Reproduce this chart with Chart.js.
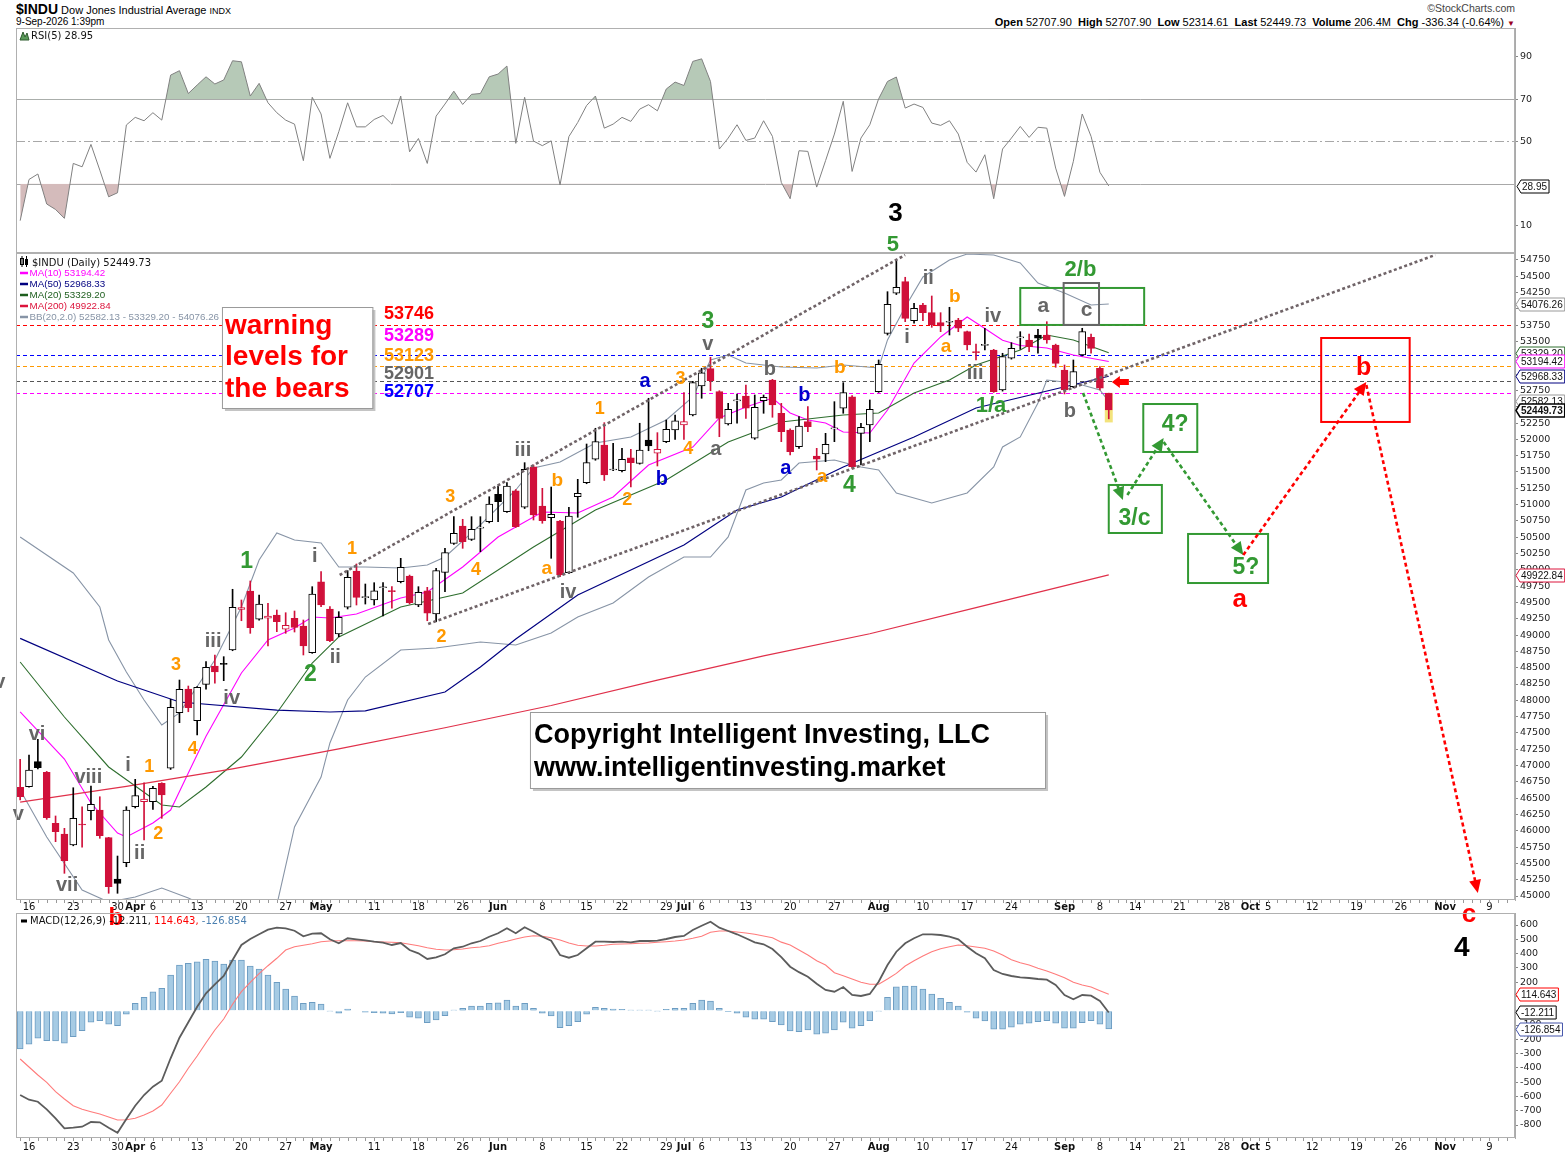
<!DOCTYPE html>
<html>
<head>
<meta charset="utf-8">
<title>$INDU Dow Jones Industrial Average</title>
<script src="https://cdn.jsdelivr.net/npm/chart.js@4.4.1/dist/chart.umd.min.js"></script>
<style>
  html, body { margin:0; padding:0; background:#fff; }
  body { width:1565px; height:1157px; position:relative; overflow:hidden; font-family:"Liberation Sans", Arial, sans-serif; }
  canvas { position:absolute; left:0; }
  .hdr { position:absolute; white-space:nowrap; color:#000; line-height:1; }
</style>
</head>
<body>
<div class="hdr" style="left:16px; top:2px; font-size:11px;"><b style="font-size:14px;">$INDU</b> Dow Jones Industrial Average <span style="font-size:9px">INDX</span></div>
<div class="hdr" style="left:16px; top:17px; font-size:10px;">9-Sep-2026 1:39pm</div>
<div class="hdr" style="right:50px; top:3px; font-size:10.5px; color:#444;">©StockCharts.com</div>
<div class="hdr" style="right:50px; top:17px; font-size:11px;"><b>Open</b> 52707.90 &nbsp;<b>High</b> 52707.90 &nbsp;<b>Low</b> 52314.61 &nbsp;<b>Last</b> 52449.73 &nbsp;<b>Volume</b> 206.4M &nbsp;<b>Chg</b> -336.34 (-0.64%) <span style="color:#990022;font-size:8px;">▼</span></div>
<canvas id="rsiChart" width="1565" height="245" style="top:18px;"></canvas>
<canvas id="priceChart" width="1565" height="760" style="top:180px;"></canvas>
<canvas id="macdChart" width="1565" height="257" style="top:900px;"></canvas>
<script>
// ================= DATA =================
const firstSession = '2026-03-13';
const marketHolidays = ['2026-04-03','2026-05-25','2026-06-19','2026-07-03','2026-09-07','2026-11-26'];

const xTickLabels = [
  ['2026-03-16','16'],['2026-03-23','23'],['2026-03-30','30'],['2026-04-01','Apr'],['2026-04-06','6'],
  ['2026-04-13','13'],['2026-04-20','20'],['2026-04-27','27'],['2026-05-01','May'],['2026-05-11','11'],
  ['2026-05-18','18'],['2026-05-26','26'],['2026-06-01','Jun'],['2026-06-08','8'],['2026-06-15','15'],
  ['2026-06-22','22'],['2026-06-29','29'],['2026-07-01','Jul'],['2026-07-06','6'],['2026-07-13','13'],
  ['2026-07-20','20'],['2026-07-27','27'],['2026-08-03','Aug'],['2026-08-10','10'],['2026-08-17','17'],
  ['2026-08-24','24'],['2026-09-01','Sep'],['2026-09-08','8'],['2026-09-14','14'],['2026-09-21','21'],
  ['2026-09-28','28'],['2026-10-01','Oct'],['2026-10-05','5'],['2026-10-12','12'],['2026-10-19','19'],
  ['2026-10-26','26'],['2026-11-02','Nov'],['2026-11-09','9']
];
const monthLabels = ['Apr','May','Jun','Jul','Aug','Sep','Oct','Nov'];

const priceTicks = [45000,45250,45500,45750,46000,46250,46500,46750,47000,47250,47500,47750,48000,48250,48500,48750,
  49000,49250,49500,49750,50000,50250,50500,50750,51000,51250,51500,51750,52000,52250,52500,52750,53000,53250,53500,
  53750,54000,54250,54500,54750];
const rsiTicks = [10,50,70,90];
const macdTicks = [600,500,400,300,200,100,0,-100,-200,-300,-400,-500,-600,-700,-800];

// daily OHLC, one value per session starting 13-Mar-2026
const opens = [46667,46676,47059,46896,46115,45951,45782,46100,46308,46319,
  45894,45261,45511,46369,46446,46446,46728,46958,47810,48173,
  47687,48245,48526,48560,48771,49395,49676,49242,49258,49308,
  49089,49257,49139,48730,49818,49400,49017,49426,49982,49575,
  49538,49725,49670,49818,49906,49461,49680,49323,49962,50407,
  50672,50468,50640,50738,51158,50891,51213,50959,51581,50979,
  50800,50749,49956,51121,51336,51695,51914,51530,51520,51719,
  51633,51991,51787,51965,52144,52221,52374,52818,53084,52731,
  52236,52590,52665,52017,52593,52910,52400,52144,51888,52271,
  51745,51776,52160,52477,52654,52093,52221,52731,53626,54240,
  54417,53819,54060,53942,53789,53795,53830,53651,53335,53440,
  53370,52757,53243,53555,53524,53600,53600,53447,53064,52808,
  53294,53565,53090,52708];
const highs = [47096,47162,47402,46910,46227,46038,46660,46369,46686,46522,
  45900,45613,46369,46789,46737,46680,46737,48016,48311,48219,
  48210,48592,48695,48669,49702,49538,49829,49614,49487,49384,
  49343,49369,49231,49742,49972,49435,49359,49987,50090,49783,
  49803,49803,49742,50177,49920,49742,49732,50024,50330,50815,
  50775,50815,50815,51121,51285,51336,51230,51643,51607,51250,
  51270,50760,50959,51388,51929,52170,52256,51940,51863,51847,
  52247,52630,52103,52297,52374,52716,52890,53090,53258,52746,
  52553,52696,52834,52680,52680,52920,52553,52160,52349,52501,
  51863,52093,52578,52869,52670,52247,52604,53217,54264,54739,
  54485,54086,54086,54198,53942,54025,53856,53660,53462,53703,
  53380,53320,53482,53651,53616,53688,53804,53460,53140,53217,
  53703,53616,53114,52708];
const lows = [46472,46670,46947,46176,45833,45348,45770,45747,46165,45885,
  45042,45042,45449,46350,45859,46329,46191,46940,47657,47825,
  47468,48169,48261,48301,48760,49220,49027,49230,48833,49052,
  49027,49047,48695,48720,49435,48898,48976,49400,49461,49476,
  49461,49293,49411,49800,49476,49435,49220,49205,49665,50390,
  50330,50450,50278,50720,50738,50880,50650,50940,50764,50714,
  50177,49895,49940,50806,51320,51680,51370,51520,51500,51270,
  51620,51826,51592,51950,52001,52001,52360,52630,52746,52041,
  52220,52247,52323,52000,52400,52339,51965,51761,51863,52118,
  51531,51658,51965,52400,51557,51607,51965,52720,53600,54220,
  53804,53780,53819,53718,53651,53600,53651,53370,53217,53370,
  52720,52740,53230,53381,53344,53320,53473,53105,52696,52790,
  53280,53320,52760,52315];
const closes = [46522,46932,46967,46200,45986,45541,46191,46089,46406,45925,
  45143,45195,46319,46538,46487,46651,46548,47893,48169,47887,
  48200,48506,48434,48552,49426,49420,49113,49476,49293,49205,
  49150,49119,48833,49630,49461,48914,49273,49886,49579,49590,
  49680,49732,49665,50039,49496,49656,49334,49987,50263,50560,
  50432,50622,50652,51009,51045,51285,50662,51541,50841,50753,
  50852,49921,50826,51174,51643,51965,51454,51541,51695,51643,
  51837,51899,51847,52155,52286,52271,52869,53022,52900,52323,
  52461,52604,52477,52492,52645,52527,52118,51811,52205,52195,
  51695,51925,52170,52716,51581,52185,52461,53151,54071,54331,
  53856,54010,53942,53754,53738,53804,53703,53447,53329,53447,
  52731,53268,53396,53565,53421,53550,53524,53166,52757,53038,
  53651,53396,52786,52450];

// moving averages & bands at selected sessions
const ma10 = [['2026-03-13',47821],['2026-03-20',47100],['2026-03-25',46426],['2026-03-30',45966],['2026-03-31',45905],
  ['2026-04-06',46119],['2026-04-08',46318],['2026-04-10',46886],['2026-04-14',47450],['2026-04-20',48419],
  ['2026-04-23',48925],['2026-04-28',49109],['2026-04-30',49277],['2026-05-04',49262],['2026-05-07',49323],
  ['2026-05-14',49568],['2026-05-19',49660],['2026-05-26',50044],['2026-06-01',50504],['2026-06-03',50657],
  ['2026-06-08',50887],['2026-06-12',50872],['2026-06-18',51117],['2026-06-25',51607],['2026-07-02',51883],
  ['2026-07-08',52328],['2026-07-13',52496],['2026-07-16',52634],['2026-07-20',52405],['2026-07-22',52297],
  ['2026-07-24',52251],['2026-07-28',52113],['2026-07-31',52098],['2026-08-04',52450],['2026-08-07',53171],
  ['2026-08-12',53570],['2026-08-17',53876],['2026-08-19',53700],['2026-08-21',53520],['2026-08-25',53440],
  ['2026-08-28',53401],['2026-09-02',53294],['2026-09-09',53194]];
const ma20 = [['2026-03-13',48587],['2026-03-20',47744],['2026-03-27',46978],['2026-04-07',46395],['2026-04-09',46364],
  ['2026-04-14',46671],['2026-04-20',47131],['2026-04-24',47806],['2026-04-30',48572],['2026-05-05',48971],
  ['2026-05-14',49430],['2026-05-26',49645],['2026-06-05',50350],['2026-06-16',50917],['2026-06-29',51377],
  ['2026-07-09',51960],['2026-07-17',52267],['2026-07-28',52374],['2026-08-03',52404],['2026-08-07',52711],
  ['2026-08-13',52910],['2026-08-18',53140],['2026-08-25',53370],['2026-08-28',53600],['2026-09-02',53524],
  ['2026-09-09',53329]];
const ma50 = [['2026-03-13',48950],['2026-03-30',48296],['2026-04-09',47974],['2026-04-24',47851],['2026-05-04',47821],
  ['2026-05-08',47837],['2026-05-21',48127],['2026-05-28',48511],['2026-06-03',48940],['2026-06-12',49614],
  ['2026-07-01',50381],['2026-07-10',50917],['2026-07-17',51117],['2026-07-28',51577],['2026-08-07',52037],
  ['2026-08-18',52481],['2026-09-09',52968]];
const ma200 = [['2026-03-13',46440],['2026-03-31',46680],['2026-04-17',46950],['2026-05-05',47255],['2026-05-21',47580],
  ['2026-06-09',47920],['2026-06-26',48310],['2026-07-15',48680],['2026-07-31',49020],['2026-08-18',49420],
  ['2026-09-09',49923]];
const bbUpper = [['2026-03-13',50504],['2026-03-23',49952],['2026-03-26',49430],['2026-03-27',48925],['2026-03-31',48434],
  ['2026-04-02',48005],['2026-04-07',47622],['2026-04-09',47806],['2026-04-15',48618],['2026-04-20',49430],
  ['2026-04-22',50151],['2026-04-24',50565],['2026-04-28',50458],['2026-05-01',50412],['2026-05-05',50044],
  ['2026-05-08',50044],['2026-05-14',50028],['2026-05-19',50074],['2026-05-21',50197],['2026-05-28',50688],
  ['2026-06-03',51224],['2026-06-05',51561],['2026-06-10',51653],['2026-06-16',51945],['2026-06-23',52037],
  ['2026-06-29',52297],['2026-07-02',52650],['2026-07-07',53217],['2026-07-09',53294],['2026-07-13',53171],
  ['2026-07-17',53110],['2026-07-23',53094],['2026-07-28',53140],['2026-08-03',53094],['2026-08-04',53524],
  ['2026-08-06',54030],['2026-08-10',54489],['2026-08-13',54750],['2026-08-17',54842],['2026-08-20',54827],
  ['2026-08-25',54704],['2026-08-27',54397],['2026-09-01',54244],['2026-09-04',54060],['2026-09-09',54076]];
const bbLower = [['2026-03-13',46625],['2026-03-18',45905],['2026-03-24',45092],['2026-03-27',44908],['2026-04-01',44985],
  ['2026-04-07',45123],['2026-04-10',44970],['2026-04-16',44709],['2026-04-21',44556],['2026-04-24',44862],
  ['2026-04-28',46058],['2026-05-01',46824],['2026-05-04',47346],['2026-05-06',48005],['2026-05-08',48357],
  ['2026-05-14',48771],['2026-05-20',48802],['2026-05-28',48894],['2026-06-03',48848],['2026-06-09',49032],
  ['2026-06-12',49277],['2026-06-18',49492],['2026-06-25',49890],['2026-07-01',50197],['2026-07-07',50197],
  ['2026-07-09',50504],['2026-07-13',51224],['2026-07-15',51331],['2026-07-17',51377],['2026-07-21',51638],
  ['2026-07-27',51684],['2026-07-30',51577],['2026-08-03',51531],['2026-08-05',51178],['2026-08-11',51025],
  ['2026-08-17',51178],['2026-08-20',51577],['2026-08-21',51883],['2026-08-25',52037],['2026-08-27',52558],
  ['2026-08-28',52910],['2026-09-01',52880],['2026-09-03',52834],['2026-09-08',52757],['2026-09-09',52582]];

// RSI(5), daily
const rsi = [12.5,32.0,34.6,20.4,17.8,13.6,39.6,38.0,48.6,36.4,
  23.8,25.7,57.8,61.4,59.8,63.6,60.1,81.4,83.5,72.7,
  76.7,80.6,77.2,79.1,88.2,87.7,71.5,77.5,68.3,63.6,
  60.1,58.2,40.9,70.9,63.0,42.0,54.6,68.3,56.9,56.9,
  60.4,62.3,58.2,71.5,45.1,51.4,39.6,62.0,67.7,73.8,
  67.5,72.3,72.7,80.6,81.9,85.7,49.1,70.9,50.2,48.0,
  50.3,29.4,52.3,59.0,67.0,71.5,56.3,58.2,61.4,59.5,
  65.3,67.4,64.5,74.8,78.1,76.5,87.9,89.1,78.4,46.4,
  51.6,57.9,50.5,51.6,59.8,52.4,30.6,22.9,45.6,45.3,
  28.4,40.9,53.5,69.0,35.8,51.6,57.9,70.2,78.4,80.5,
  65.8,67.7,66.1,58.7,57.6,59.8,53.5,40.1,35.5,43.7,
  22.9,46.4,51.6,57.1,51.9,56.7,56.3,37.4,24.0,40.6,
  63.0,52.4,35.4,28.95];

// MACD(12,26,9), daily
const macdLine = [-590,-623,-637,-690,-753,-823,-819,-812,-779,-781,
  -819,-854,-758,-665,-590,-532,-490,-333,-189,-81,
  28,122,185,243,355,460,502,535,567,581,
  577,560,521,539,542,500,472,507,500,493,
  483,476,460,474,425,402,362,374,395,437,
  448,472,488,518,542,577,542,584,553,518,
  490,390,371,390,437,483,483,481,483,479,
  488,488,490,502,516,523,565,595,623,581,
  558,535,507,479,465,432,375,308,270,238,
  189,145,133,166,110,103,117,203,320,413,
  472,507,535,535,530,518,500,448,402,367,
  285,257,243,234,229,222,217,180,110,80,
  110,105,68,-12];
const signalLine = [-338,-394,-450,-501,-567,-618,-665,-690,-707,-723,
  -744,-765,-763,-753,-730,-702,-660,-578,-497,-403,
  -317,-224,-135,-58,45,133,199,259,315,367,
  425,448,458,469,483,488,490,490,490,488,
  483,481,479,476,465,455,441,430,425,427,
  432,441,446,455,472,486,502,516,525,521,
  511,495,474,458,453,453,458,465,467,469,
  472,474,479,483,488,495,507,521,549,558,
  558,551,544,535,523,511,480,460,425,390,
  350,320,266,245,222,199,185,185,222,261,
  313,350,383,413,434,448,460,455,446,437,
  418,390,357,336,320,297,278,255,231,199,
  180,166,140,115];
const macdHist = [-268,-235,-193,-210,-212,-228,-182,-140,-81,-70,
  -95,-105,-25,52,94,133,157,250,320,332,
  343,360,348,327,355,355,313,292,250,199,
  152,103,52,59,47,-2,-18,12,0,-11,
  -14,-18,-23,-14,-46,-53,-84,-65,-35,5,
  17,33,33,52,56,75,33,52,17,-18,
  -37,-119,-105,-77,-25,24,17,12,10,5,
  5,5,-2,10,17,17,52,75,68,17,
  -7,-18,-46,-60,-60,-77,-100,-142,-147,-135,
  -165,-158,-135,-81,-123,-105,-70,-2,94,168,
  173,173,152,117,87,59,33,-11,-53,-72,
  -130,-130,-116,-95,-88,-77,-70,-88,-123,-123,
  -84,-70,-95,-127];

// horizontal "warning levels"
const warningLevels = [53746, 53289, 53123, 52901, 52707];

// ================= SETUP =================
function buildSessions(start, n) {
  const out = []; const d = new Date(start + 'T00:00:00Z');
  while (out.length < n) {
    const s = d.toISOString().slice(0,10); const wd = d.getUTCDay();
    if (wd !== 0 && wd !== 6 && !marketHolidays.includes(s)) out.push(s);
    d.setUTCDate(d.getUTCDate() + 1);
  }
  return out;
}
const sessions = buildSessions(firstSession, 175);
const sessionIndex = {}; sessions.forEach((s,i) => { sessionIndex[s] = i; });
const xTickText = {}; xTickLabels.forEach(([d,t]) => { xTickText[sessionIndex[d]] = t; });
const xDomain = [-0.47, 168.9];

const FONT_UI = '"DejaVu Sans", Verdana, sans-serif';
const FONT_ANN = '"Liberation Sans", Arial, Helvetica, sans-serif';
Chart.defaults.font.family = FONT_UI;
Chart.defaults.font.size = 10;
Chart.defaults.color = '#222';

const C = { gray:'#666666', orange:'#ff9900', green:'#339933', blue:'#0000cc', red:'#ff0000', black:'#000000' };

// annotation layout: [text, session position, price, colour, font size]
const waveNotes = [
  ['v',-2.3,48265,C.gray,20],
  ['v',-0.2,46242,C.gray,20],['vi',1.9,47499,C.gray,20],['viii',7.7,46840,C.gray,20],['vii',5.3,45184,C.gray,20],
  ['i',12.2,47024,C.gray,20],['ii',13.5,45675,C.gray,20],['iii',21.8,48925,C.gray,20],['iv',23.9,48051,C.gray,20],
  ['i',33.3,50228,C.gray,20],['ii',35.6,48679,C.gray,20],['iii',56.8,51853,C.gray,20],['iv',61.9,49676,C.gray,20],
  ['v',77.7,53447,C.gray,20],['a',78.6,51837,C.gray,20],['b',84.7,53094,C.gray,20],['i',100.2,53585,C.gray,20],
  ['ii',102.6,54489,C.gray,20],['iii',107.9,53033,C.gray,20],['iv',109.9,53907,C.gray,20],['a',115.6,54030,C.gray,21],
  ['c',120.5,53968,C.gray,21],['b',118.6,52450,C.gray,20],
  ['1',14.6,46993,C.orange,18],['2',15.6,45981,C.orange,18],['3',17.6,48557,C.orange,18],['4',19.5,47284,C.orange,18],
  ['1',37.5,50335,C.orange,18],['2',47.6,48986,C.orange,18],['3',48.6,51132,C.orange,18],['4',51.5,50013,C.orange,18],
  ['a',59.5,50013,C.orange,19],['b',60.7,51393,C.orange,19],['1',65.5,52481,C.orange,18],['2',68.6,51101,C.orange,18],
  ['3',74.6,52941,C.orange,18],['4',75.5,51868,C.orange,18],['a',90.6,51423,C.orange,19],['b',92.6,53125,C.orange,19],
  ['a',104.6,53416,C.orange,19],['b',105.6,54213,C.orange,19],
  ['1',25.6,50151,C.green,23],['2',32.8,48419,C.green,23],['3',77.7,53830,C.green,23],['4',93.7,51316,C.green,23],
  ['5',98.6,55011,C.green,22],['1/a',109.7,52542,C.green,22],['2/b',119.8,54627,C.green,22],
  ['3/c',125.9,50810,C.green,23],['4?',130.5,52251,C.green,23],['5?',138.5,50059,C.green,23],
  ['a',70.6,52880,C.blue,20],['b',72.5,51408,C.blue,20],['a',86.5,51546,C.blue,20],['b',88.6,52696,C.blue,20],
  ['a',137.8,49538,C.red,26],['b',151.8,53125,C.red,25],['c',163.7,44709,C.red,26],['b',10.8,44694,C.red,24],
  ['3',98.9,55486,C.black,26]
];
const trendLines = [[[36.1,49921],[99.98,54827]], [[46.1,49170],[159.9,54827]]];
const greenArrows = [[[120.1,52711],[124.6,51071]], [[125.1,51147],[129.2,52021]], [[129.2,51960],[138.2,50228]]];
const redArrows = [[[138.2,50228],[152.1,52880]], [[152.1,52834],[164.7,45046]]];
const greenBoxes = [[113.0,54321,127.0,53754],[126.9,52542,133.0,51807],[123.0,51301,129.0,50565],[131.96,50550,141.0,49798]];
const grayBoxes = [[117.9,54397,121.9,53754]];
const redBoxes = [[147.0,53554,157.0,52267]];
const highlightBox = [122.55,52700,123.45,52260];

// ================= HELPERS =================
function txt(ctx, s, x, y, color, size, opts = {}) {
  ctx.save();
  ctx.font = `${opts.weight || 'bold'} ${size}px ${opts.family || FONT_ANN}`;
  ctx.fillStyle = color; ctx.textAlign = opts.align || 'center'; ctx.textBaseline = 'alphabetic';
  const k = opts.k !== undefined ? opts.k : (/[0-9A-Zbdfhiklt\/\?]/.test(s) ? 0.36 : 0.26);
  ctx.fillText(s, x, y + k * size);
  ctx.restore();
}
function dottedArrow(ctx, x1, y1, x2, y2, color) {
  ctx.save();
  const ang = Math.atan2(y2 - y1, x2 - x1), hl = 13, hw = 6;
  ctx.strokeStyle = color; ctx.lineWidth = 2.6; ctx.setLineDash([4,3]);
  ctx.beginPath(); ctx.moveTo(x1, y1); ctx.lineTo(x2 - Math.cos(ang)*hl*0.8, y2 - Math.sin(ang)*hl*0.8); ctx.stroke();
  ctx.setLineDash([]); ctx.fillStyle = color;
  const bx = x2 - hl*Math.cos(ang), by = y2 - hl*Math.sin(ang);
  ctx.beginPath(); ctx.moveTo(x2, y2);
  ctx.lineTo(bx + hw*Math.sin(ang), by - hw*Math.cos(ang));
  ctx.lineTo(bx - hw*Math.sin(ang), by + hw*Math.cos(ang));
  ctx.closePath(); ctx.fill();
  ctx.restore();
}
function shadowBox(ctx, x1, y1, x2, y2) {
  ctx.save();
  ctx.fillStyle = '#c4c4c4'; ctx.fillRect(x1 + 3, y1 + 3, x2 - x1, y2 - y1);
  ctx.fillStyle = '#ffffff'; ctx.fillRect(x1, y1, x2 - x1, y2 - y1);
  ctx.strokeStyle = '#9a9a9a'; ctx.lineWidth = 1; ctx.strokeRect(x1 + 0.5, y1 + 0.5, x2 - x1, y2 - y1);
  ctx.restore();
}
function valueBox(ctx, x0, y, text, border, bold) {
  ctx.save();
  ctx.font = `${bold ? 'bold ' : ''}10px ${FONT_ANN}`;
  const w = ctx.measureText(text).width + 2, h = 13;
  y = Math.round(y) + 0.5;
  ctx.beginPath(); ctx.moveTo(x0, y); ctx.lineTo(x0 + 4, y - h/2); ctx.lineTo(x0 + 5 + w, y - h/2);
  ctx.lineTo(x0 + 5 + w, y + h/2); ctx.lineTo(x0 + 4, y + h/2); ctx.closePath();
  ctx.fillStyle = '#fff'; ctx.fill(); ctx.strokeStyle = border; ctx.lineWidth = bold ? 1.5 : 1; ctx.stroke();
  ctx.fillStyle = '#111'; ctx.textAlign = 'left'; ctx.textBaseline = 'middle'; ctx.fillText(text, x0 + 5, y + 0.5);
  ctx.restore();
}
function frame(chart) {
  const {ctx, chartArea:a} = chart;
  ctx.save(); ctx.strokeStyle = '#b0b0b0'; ctx.lineWidth = 1;
  ctx.strokeRect(Math.round(a.left) + 0.5, Math.round(a.top) + 0.5, Math.round(a.right - a.left) - 1, Math.round(a.bottom - a.top) - 1);
  ctx.restore();
}
function dayTicks(chart) {
  const {ctx, chartArea:a, scales:{x}} = chart;
  ctx.save(); ctx.strokeStyle = '#999'; ctx.lineWidth = 1;
  for (let i = 0; i < sessions.length; i++) {
    const px = Math.round(x.getPixelForValue(i)) + 0.5;
    if (px < a.left || px > a.right) continue;
    ctx.beginPath(); ctx.moveTo(px, a.bottom); ctx.lineTo(px, a.bottom + 3); ctx.stroke();
  }
  ctx.restore();
}
function xAxis(show, height, pad) {
  return {
    type:'linear', min:xDomain[0], max:xDomain[1], offset:false, display:show,
    grid:{display:false, drawTicks:false}, border:{display:false},
    afterBuildTicks: s => { s.ticks = Object.keys(xTickText).map(k => ({value:+k})); },
    afterFit: s => { s.height = height; },
    ticks:{
      autoSkip:false, maxRotation:0, minRotation:0, padding:pad, color:'#111',
      callback: v => (xTickText[v] !== undefined ? xTickText[v] : ''),
      font: c => ({size:10, family:FONT_UI, weight: (c.tick && monthLabels.includes(xTickText[c.tick.value])) ? 'bold' : 'normal'})
    }
  };
}
function yAxis(min, max, tickList) {
  return {
    type:'linear', position:'right', min, max,
    afterBuildTicks: s => { s.ticks = tickList.map(v => ({value:v})); },
    afterFit: s => { s.width = 50; },
    grid:{drawOnChartArea:false, drawTicks:true, tickLength:3, color:'#888'},
    border:{display:true, color:'#aaa'},
    ticks:{padding:2, color:'#222', font:{size:9.5, family:FONT_UI}, callback: v => String(v)}
  };
}
const baseOpts = { animation:false, responsive:false, devicePixelRatio:1, events:[],
  plugins:{legend:{display:false}, tooltip:{enabled:false}} };
const toXY = arr => arr.map(([d,v]) => ({x:sessionIndex[d], y:v}));
const lineDs = (pts, color, w) => ({type:'line', data:pts, borderColor:color, borderWidth:w || 1,
  pointRadius:0, tension:0, fill:false, order:3});

// ================= RSI PANEL =================
const rsiPts = rsi.map((v,i) => ({x:i, y:v}));
const rsiDecor = {
  id:'rsiDecor',
  beforeDatasetsDraw(chart) {
    const {ctx, chartArea:a, scales:{y}} = chart;
    ctx.save(); ctx.strokeStyle = '#a8a8a8'; ctx.lineWidth = 1;
    [70,30].forEach(v => { const py = Math.round(y.getPixelForValue(v)) + 0.5; ctx.beginPath(); ctx.moveTo(a.left, py); ctx.lineTo(a.right, py); ctx.stroke(); });
    ctx.setLineDash([9,3,2,3]);
    const p50 = Math.round(y.getPixelForValue(50)) + 0.5; ctx.beginPath(); ctx.moveTo(a.left, p50); ctx.lineTo(a.right, p50); ctx.stroke();
    ctx.restore();
  },
  afterDraw(chart) {
    const {ctx, chartArea:a, scales:{y}} = chart;
    frame(chart);
    ctx.save();
    ctx.fillStyle = '#5a9a5a'; ctx.strokeStyle = '#2d5a2d'; ctx.lineWidth = 1;
    ctx.beginPath(); ctx.moveTo(a.left + 4, a.top + 12); ctx.lineTo(a.left + 7, a.top + 4); ctx.lineTo(a.left + 9, a.top + 9);
    ctx.lineTo(a.left + 11, a.top + 5); ctx.lineTo(a.left + 13, a.top + 12); ctx.closePath(); ctx.fill(); ctx.stroke();
    ctx.restore();
    txt(ctx, 'RSI(5) 28.95', a.left + 15, a.top + 7, '#111', 10, {weight:'normal', family:FONT_UI, align:'left', k:0.35});
    valueBox(ctx, a.right + 2, y.getPixelForValue(28.95), '28.95', '#000', false);
  }
};
new Chart(document.getElementById('rsiChart'), {
  type:'line',
  data:{datasets:[
    {data:rsiPts, borderColor:'#808080', borderWidth:1, pointRadius:0, tension:0,
     fill:{target:{value:70}, above:'rgb(182,201,183)', below:'rgba(0,0,0,0)'}},
    {data:rsiPts, borderColor:'rgba(0,0,0,0)', borderWidth:0, pointRadius:0, tension:0,
     fill:{target:{value:30}, above:'rgba(0,0,0,0)', below:'rgb(212,187,187)'}}
  ]},
  options:Object.assign({}, baseOpts, {
    layout:{padding:{left:16, right:0, top:10, bottom:10}},
    scales:{ x:xAxis(false, 0, 0), y:yAxis(-2.8, 103.7, rsiTicks) }
  }),
  plugins:[rsiDecor]
});

// ================= PRICE PANEL =================
const RED = '#d0103a', BLK = '#000000';
const candleColors = closes.map((c,i) => (i === 0 || c < closes[i-1]) ? RED : BLK);
const bodyData = opens.map((o,i) => ({x:i, y:[Math.min(o, closes[i]), Math.max(o, closes[i])]}));
const wickData = lows.map((l,i) => ({x:i, y:[l, highs[i]]}));

const priceDecor = {
  id:'priceDecor',
  beforeDatasetsDraw(chart) {
    const {ctx, chartArea:a, scales:{x, y}} = chart;
    ctx.save();
    ctx.beginPath(); ctx.rect(a.left, a.top, a.right - a.left, a.bottom - a.top); ctx.clip();
    const [h1,hp1,h2,hp2] = highlightBox;
    ctx.fillStyle = '#f3e37c';
    ctx.fillRect(x.getPixelForValue(h1), y.getPixelForValue(hp1), x.getPixelForValue(h2) - x.getPixelForValue(h1), y.getPixelForValue(hp2) - y.getPixelForValue(hp1));
    const lineCols = ['#ff0000', '#0000ff', '#ff9900', '#555555', '#ff00ff'];
    ctx.setLineDash([4,3]); ctx.lineWidth = 1;
    warningLevels.forEach((v,i) => {
      const py = Math.round(y.getPixelForValue(v)) + 0.5;
      ctx.strokeStyle = lineCols[i]; ctx.beginPath(); ctx.moveTo(a.left, py); ctx.lineTo(a.right, py); ctx.stroke();
    });
    ctx.restore();
  },
  afterDatasetsDraw(chart) {
    const {ctx, chartArea:a, scales:{x, y}} = chart;
    const X = v => x.getPixelForValue(v), Y = v => y.getPixelForValue(v);
    // trend channel lines
    ctx.save();
    ctx.beginPath(); ctx.rect(a.left, a.top, a.right - a.left, a.bottom - a.top); ctx.clip();
    ctx.strokeStyle = 'rgb(112,100,104)'; ctx.lineWidth = 2.6; ctx.setLineDash([3,2.5]);
    trendLines.forEach(([[d1,p1],[d2,p2]]) => { ctx.beginPath(); ctx.moveTo(X(d1), Y(p1)); ctx.lineTo(X(d2), Y(p2)); ctx.stroke(); });
    ctx.restore();
    // warning box
    shadowBox(ctx, X(22.8), Y(54029), X(39.8), Y(52481));
    txt(ctx, 'warning', X(23.15), Y(53723), '#ff0000', 28, {align:'left', k:0.26});
    txt(ctx, 'levels for', X(23.15), Y(53248), '#ff0000', 28, {align:'left', k:0.26});
    txt(ctx, 'the bears', X(23.15), Y(52757), '#ff0000', 28, {align:'left', k:0.26});
    const labCols = ['#ff0000', '#ff00ff', '#ff9900', '#666666', '#0000ff'];
    const labPos = [53938, 53600, 53294, 53018, 52742];
    warningLevels.forEach((v,i) => txt(ctx, String(v), X(41.1), Y(labPos[i]), labCols[i], 18, {align:'left', k:0.36}));
    // copyright box
    shadowBox(ctx, X(57.6), Y(47821), X(115.8), Y(46656));
    txt(ctx, 'Copyright Intelligent Investing, LLC', X(58.05), Y(47499), '#000', 27, {align:'left', k:0.36});
    txt(ctx, 'www.intelligentinvesting.market', X(58.05), Y(46993), '#000', 27, {align:'left', k:0.36});
    // boxes
    ctx.save(); ctx.lineWidth = 2;
    const rect = (b, col) => { ctx.strokeStyle = col; ctx.strokeRect(X(b[0]), Y(b[1]), X(b[2]) - X(b[0]), Y(b[3]) - Y(b[1])); };
    greenBoxes.forEach(b => rect(b, C.green));
    grayBoxes.forEach(b => rect(b, '#666666'));
    redBoxes.forEach(b => rect(b, C.red));
    ctx.restore();
    // arrows
    greenArrows.forEach(([[d1,p1],[d2,p2]]) => dottedArrow(ctx, X(d1), Y(p1), X(d2), Y(p2), C.green));
    redArrows.forEach(([[d1,p1],[d2,p2]]) => dottedArrow(ctx, X(d1), Y(p1), X(d2), Y(p2), C.red));
    // small red pointer arrow
    ctx.save(); ctx.fillStyle = '#ff0000';
    const ax = X(123.35), ay = Y(52880);
    ctx.beginPath(); ctx.moveTo(ax, ay); ctx.lineTo(ax + 8, ay - 6); ctx.lineTo(ax + 8, ay - 3); ctx.lineTo(ax + 17, ay - 3);
    ctx.lineTo(ax + 17, ay + 3); ctx.lineTo(ax + 8, ay + 3); ctx.lineTo(ax + 8, ay + 6); ctx.closePath(); ctx.fill();
    ctx.restore();
    // wave labels
    waveNotes.forEach(([t, d, p, col, sz]) => txt(ctx, t, X(d), Y(p), col, sz));
    // legend
    ctx.save();
    const lx = a.left + 4, ly = a.top + 9;
    ctx.strokeStyle = '#000'; ctx.lineWidth = 1;
    ctx.strokeRect(lx + 0.5, ly - 3.5, 3, 6); ctx.fillStyle = '#000'; ctx.fillRect(lx + 5, ly - 3, 3, 6);
    ctx.beginPath(); ctx.moveTo(lx + 2, ly - 6); ctx.lineTo(lx + 2, ly + 5); ctx.moveTo(lx + 6.5, ly - 6); ctx.lineTo(lx + 6.5, ly + 5); ctx.stroke();
    ctx.restore();
    txt(ctx, '$INDU (Daily) 52449.73', lx + 12, ly, '#111', 10, {weight:'normal', family:FONT_UI, align:'left', k:0.35});
    const rows = [['MA(10) 53194.42','#ff00ff'],['MA(50) 52968.33','#000080'],['MA(20) 53329.20','#1e5e1e'],
                  ['MA(200) 49922.84','#dc143c'],['BB(20,2.0) 52582.13 - 53329.20 - 54076.26','#8794a6']];
    rows.forEach(([t, col], i) => {
      const ry = ly + 11 * (i + 1);
      ctx.save(); ctx.strokeStyle = col; ctx.lineWidth = 2.5; ctx.beginPath(); ctx.moveTo(lx, ry); ctx.lineTo(lx + 8, ry); ctx.stroke(); ctx.restore();
      txt(ctx, t, lx + 9.5, ry, col, 9.8, {weight:'normal', family:FONT_ANN, align:'left', k:0.35});
    });
  },
  afterDraw(chart) {
    const {ctx, chartArea:a, scales:{y}} = chart;
    frame(chart); dayTicks(chart);
    const vb = [[54076.26,'#999999',false],[53329.20,'#2e6e2e',false],[53194.42,'#ff00ff',false],[52968.33,'#000080',false],
                [52582.13,'#999999',false],[52449.73,'#000000',true],[49922.84,'#dc143c',false]];
    vb.forEach(([v, col, b]) => valueBox(ctx, a.right + 1, y.getPixelForValue(v), v.toFixed(2), col, b));
  }
};
new Chart(document.getElementById('priceChart'), {
  type:'bar',
  data:{datasets:[
    {type:'bar', data:bodyData, backgroundColor:opens.map((o,i) => closes[i] > o ? '#ffffff' : candleColors[i]),
     borderColor:candleColors, borderWidth:1, borderSkipped:false, barThickness:7, grouped:false, minBarLength:1, order:0},
    {type:'bar', data:wickData, backgroundColor:candleColors, borderWidth:0, barThickness:1, grouped:false, order:1},
    lineDs(toXY(ma200), '#e0304a', 1.2),
    lineDs(toXY(ma50), '#000080', 1.2),
    lineDs(toXY(ma20), '#2e6e2e', 1.1),
    lineDs(toXY(ma10), '#ff00ff', 1.1),
    lineDs(toXY(bbUpper), '#8794a6', 1.1),
    lineDs(toXY(bbLower), '#8794a6', 1.1)
  ]},
  options:Object.assign({}, baseOpts, {
    layout:{padding:{left:16, right:0, top:73, bottom:27}},
    scales:{ x:xAxis(true, 13, 1), y:yAxis(44939, 54857, priceTicks) }
  }),
  plugins:[priceDecor]
});

// ================= MACD PANEL =================
const macdDecor = {
  id:'macdDecor',
  afterDraw(chart) {
    const {ctx, chartArea:a, scales:{x, y}} = chart;
    frame(chart); dayTicks(chart);
    ctx.save(); ctx.strokeStyle = '#000'; ctx.lineWidth = 3;
    ctx.beginPath(); ctx.moveTo(a.left + 5, a.top + 8); ctx.lineTo(a.left + 11, a.top + 8); ctx.stroke(); ctx.restore();
    ctx.save();
    ctx.font = `10px ${FONT_UI}`; ctx.textBaseline = 'middle'; ctx.textAlign = 'left';
    let cx = a.left + 14; const cy = a.top + 8.5;
    [['MACD(12,26,9) -12.211,','#111'],[' 114.643,','#ff0000'],[' -126.854','#4a7fb0']].forEach(([t, col]) => {
      ctx.fillStyle = col; ctx.fillText(t, cx, cy); cx += ctx.measureText(t).width;
    });
    ctx.restore();
    txt(ctx, '4', x.getPixelForValue(162.9), y.getPixelForValue(453), '#000', 28);
    valueBox(ctx, a.right + 1, y.getPixelForValue(114.643), '114.643', '#ff0000', false);
    valueBox(ctx, a.right + 1, y.getPixelForValue(-12.211), '-12.211', '#000000', false);
    valueBox(ctx, a.right + 1, y.getPixelForValue(-126.854), '-126.854', '#4455aa', false);
  }
};
new Chart(document.getElementById('macdChart'), {
  type:'bar',
  data:{datasets:[
    {type:'line', data:macdLine.map((v,i) => ({x:i, y:v})), borderColor:'#5c5c5c', borderWidth:1.8, pointRadius:0, tension:0, order:0},
    {type:'line', data:signalLine.map((v,i) => ({x:i, y:v})), borderColor:'#ff7b7b', borderWidth:1.1, pointRadius:0, tension:0, order:1},
    {type:'bar', data:macdHist.map((v,i) => ({x:i, y:v})), backgroundColor:'rgb(166,203,228)', borderColor:'rgb(108,156,194)',
     borderWidth:1, borderSkipped:'start', barThickness:6, grouped:false, order:2}
  ]},
  options:Object.assign({}, baseOpts, {
    layout:{padding:{left:16, right:0, top:13, bottom:0}},
    scales:{ x:xAxis(true, 19, 3), y:yAxis(-891, 684, macdTicks) }
  }),
  plugins:[macdDecor]
});
</script>
</body>
</html>
